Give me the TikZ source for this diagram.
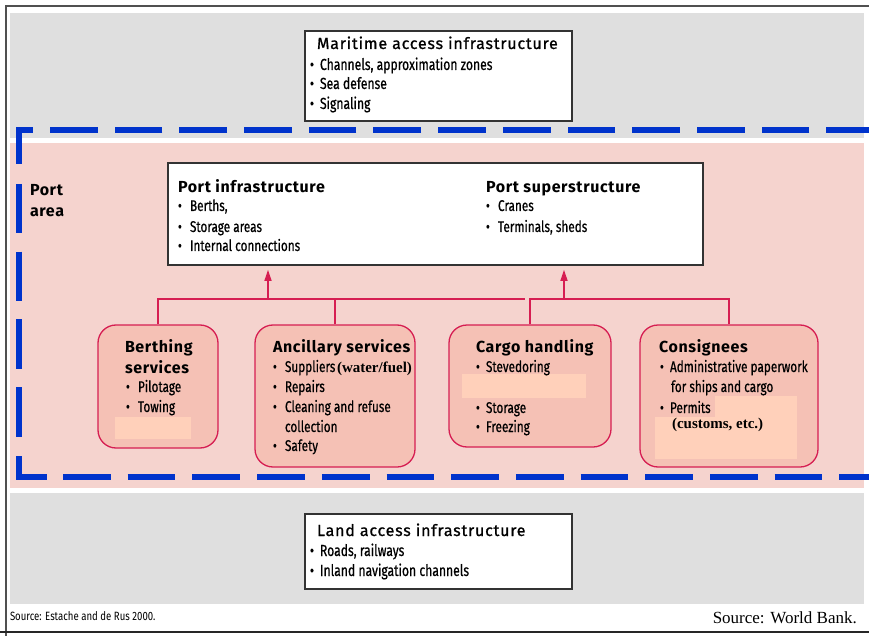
\documentclass[tikz,border=0pt]{standalone}
\usepackage{fontspec}
\setmainfont{Fira Sans}
\newfontfamily\cond[FakeStretch=0.76,FakeBold=0.6]{Fira Sans}
\newfontfamily\condsm[FakeStretch=0.8]{Fira Sans}
\newfontfamily\ttlfont[LetterSpace=4]{Fira Sans}
\newfontfamily\medfont[LetterSpace=5,FakeBold=1]{Fira Sans}
\newfontfamily\tms{Liberation Serif}
\usetikzlibrary{arrows.meta}
\definecolor{bandgray}{RGB}{223,223,223}
\definecolor{portpink}{RGB}{245,211,206}
\definecolor{boxpink}{RGB}{245,193,181}
\definecolor{peach}{RGB}{255,208,186}
\definecolor{crim}{RGB}{214,30,82}
\definecolor{dblue}{RGB}{0,51,204}
\definecolor{framegray}{RGB}{80,80,80}
\newcommand\bul{\makebox[10pt][l]{•}}
\newcommand\bulw{\makebox[12pt][l]{•}}
\begin{document}
\begin{tikzpicture}[x=1pt,y=-1pt,
  txt/.style={anchor=base west, inner sep=0pt, outer sep=0pt},
  ttlA/.style={txt, font=\medfont\fontsize{16}{18}\selectfont},
  ttlB/.style={txt, font=\ttlfont\fontsize{16}{18}\selectfont\bfseries},
  itm/.style={txt, font=\cond\fontsize{15.5}{17}\selectfont},
  bigitm/.style={txt, font=\cond\fontsize{16}{17}\selectfont},
  tmsb/.style={txt, font=\tms\fontsize{15}{17}\selectfont\bfseries},
  blk/.style={draw=black!80, line width=1.6pt, fill=white, inner sep=0pt},
  svc/.style={draw=crim, line width=1.3pt, fill=boxpink, rounded corners=18pt, inner sep=0pt},
  patch/.style={fill=peach, draw=none},
  conn/.style={draw=crim, line width=1.4pt},
  dsh/.style={draw=dblue, line width=6pt},
]
\useasboundingbox (0,0) rectangle (869,636);
% bands
\fill[bandgray] (10,13) rectangle (864,138);
\fill[portpink] (10,143) rectangle (864,488);
\fill[bandgray] (10,493) rectangle (864,604);
% frame
\draw[framegray, line width=1.5pt] (6,636) -- (6,6) -- (869,6);
\draw[black!85, line width=1.5pt] (0,632) -- (869,632);
% dashed port border
\draw[dsh, dash pattern=on 47.7pt off 17pt, dash phase=5pt] (869,130) -- (19,130) -- (19,170);
\draw[dsh, dash pattern=on 49.5pt off 18.2pt] (19,184) -- (19,437);
\draw[dsh] (19,456) -- (19,476.5) -- (47,476.5);
\draw[dsh, dash pattern=on 47.7pt off 17pt] (63,476.5) -- (869,476.5);

% black boxes
\node[blk, minimum width=267pt, minimum height=90pt] (mar) at (438.5,76) {};
\node[blk, minimum width=535pt, minimum height=102pt] (inf) at (435.5,214) {};
\node[blk, minimum width=267pt, minimum height=75pt] (land) at (438.5,551.5) {};

% service boxes
\node[svc, minimum width=120pt, minimum height=123pt] (berth) at (158,386.5) {};
\node[svc, minimum width=160pt, minimum height=142pt] (anc) at (335,396) {};
\node[svc, minimum width=162pt, minimum height=122pt] (cargo) at (530,386) {};
\node[svc, minimum width=178pt, minimum height=142pt] (cons) at (729,396) {};

% patches
\fill[patch] (115,417) rectangle (191,439);
\fill[patch] (462,374) rectangle (586,398);
\fill[patch] (715,396) rectangle (797,417);
\fill[patch] (655,417) rectangle (797,459);

% connectors
\coordinate (jl) at (525,299);
\coordinate (jr) at (530,299);
\coordinate (a1) at (268,299);
\coordinate (a2) at (564,299);
\draw[conn] (berth.north) |- (jl);
\draw[conn] (anc.north) -- (anc.north |- jl);
\draw[conn] (cargo.north) -- (jr) -- (cons.north |- jr) -- (cons.north);
\draw[conn, -{Triangle[length=11pt,width=7pt]}, shorten >=4pt] (a1) -- (a1 |- inf.south);
\draw[conn, -{Triangle[length=11pt,width=7pt]}, shorten >=4pt] (a2) -- (a2 |- inf.south);

% maritime text
\node[ttlA] (mt) at (317,49) {Maritime access infrastructure};
\node[bigitm] (m1) at (310,70) {\bul Channels, approximation zones};
\node[bigitm] (m2) at (310,89) {\bul Sea defense};
\node[bigitm] (m3) at (310,109) {\bul Signaling};

% port infrastructure / superstructure
\node[ttlB] (pit) at (178,193) {Port infrastructure};
\node[itm] (pi1) at (178,211) {\bulw Berths,};
\node[itm] (pi2) at (178,232) {\bulw Storage areas};
\node[itm] (pi3) at (178,251) {\bulw Internal connections};
\node[ttlB] (pst) at (486,193) {Port superstructure};
\node[itm] (ps1) at (486,211) {\bulw Cranes};
\node[itm] (ps2) at (486,232) {\bulw Terminals, sheds};

% port area label
\node[ttlB] (pa1) at (30,196) {Port};
\node[ttlB] (pa2) at (30,217) {area};

% berthing
\node[ttlB] (bt1) at (125,352) {Berthing};
\node[ttlB] (bt2) at (125,373) {services};
\node[itm] (b1) at (126,392) {\bulw Pilotage};
\node[itm] (b2) at (126,412) {\bulw Towing};

% ancillary
\node[ttlB] (at) at (273,352) {Ancillary services};
\node[itm] (an1) at (273,372) {\bulw Suppliers};
\node[tmsb] (an1b) at (337,372) {(water/fuel)};
\node[itm] (an2) at (273,392) {\bulw Repairs};
\node[itm] (an3) at (273,412) {\bulw Cleaning and refuse};
\node[itm] (an4) at (285,432) {collection};
\node[itm] (an5) at (273,451) {\bulw Safety};

% cargo
\node[ttlB] (ct) at (476,352) {Cargo handling};
\node[itm] (c1) at (476,372) {\bul Stevedoring};
\node[itm] (c2) at (476,413) {\bul Storage};
\node[itm] (c3) at (476,432) {\bul Freezing};

% consignees
\node[ttlB] (cot) at (659,352) {Consignees};
\node[itm] (co1) at (660,372) {\bul Administrative paperwork};
\node[itm] (co2) at (671,392) {for ships and cargo};
\node[itm] (co3) at (660,413) {\bul Permits};
\node[tmsb] (co4) at (672,428) {(customs, etc.)};

% land
\node[ttlA] (lt) at (317,536) {Land access infrastructure};
\node[bigitm] (l1) at (310,556) {\bul Roads, railways};
\node[bigitm] (l2) at (310,576) {\bul Inland navigation channels};

% sources
\node[txt, font=\condsm\fontsize{12}{14}\selectfont] (s1) at (10,620) {Source: Estache and de Rus 2000.};
\node[anchor=base east, inner sep=0pt, font=\tms\fontsize{17}{19}\selectfont] (s2) at (857,623) {Source: World Bank.};
\end{tikzpicture}
\end{document}
